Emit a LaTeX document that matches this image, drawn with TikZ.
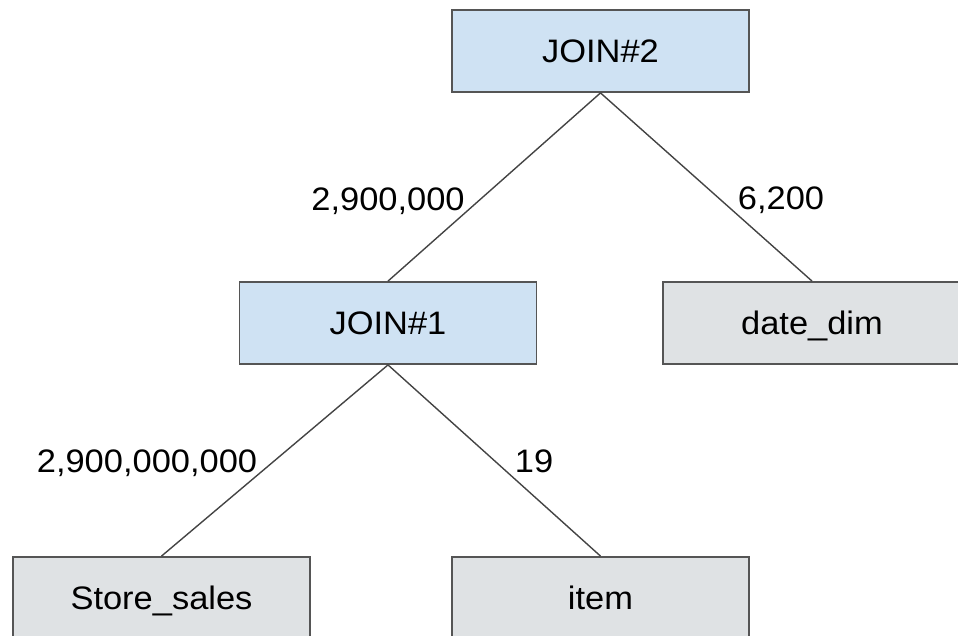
\documentclass[tikz,border=0pt]{standalone}
\usepackage{fontspec}
\setmainfont[FakeStretch=1.06]{Liberation Sans}
\definecolor{joinblue}{HTML}{CFE2F3}
\definecolor{tablegray}{HTML}{DFE2E4}
\definecolor{boxborder}{HTML}{555555}
\definecolor{edgecol}{HTML}{444444}
\tikzset{
  opbox/.style={draw=boxborder, line width=1.8pt, fill=joinblue, inner sep=0pt,
    minimum width=297pt, minimum height=82pt, text height=23.5pt, text depth=0pt,
    font=\fontsize{32.5}{38}\selectfont},
  tblbox/.style={opbox, fill=tablegray},
  edge/.style={draw=edgecol, line width=1.4pt},
  card/.style={anchor=base, inner sep=0pt, font=\fontsize{32.5}{38}\selectfont}
}
\begin{document}
\begin{tikzpicture}[x=1pt, y=-1pt]
\useasboundingbox (0,0) rectangle (958,635);
\clip (0,0) rectangle (958,635);
\node[opbox] (j2) at (600.5,51) {JOIN\#2};
\node[opbox] (j1) at (388,323) {JOIN\#1};
\node[tblbox, minimum width=298pt] (dd) at (812,323) {date\_dim};
\node[tblbox] (ss) at (161.5,598) {Store\_sales};
\node[tblbox] (it) at (600.5,598) {item};
\draw[edge] (j2.south) -- (j1.north);
\draw[edge] (j2.south) -- (dd.north);
\draw[edge] (j1.south) -- (ss.north);
\draw[edge] (j1.south) -- (it.north);
\node[card] (l1) at (388,210.5) {2,900,000};
\node[card] (l2) at (781,209) {6,200};
\node[card] (l3) at (147,472) {2,900,000,000};
\node[card] (l4) at (534,472) {19};
\end{tikzpicture}
\end{document}
